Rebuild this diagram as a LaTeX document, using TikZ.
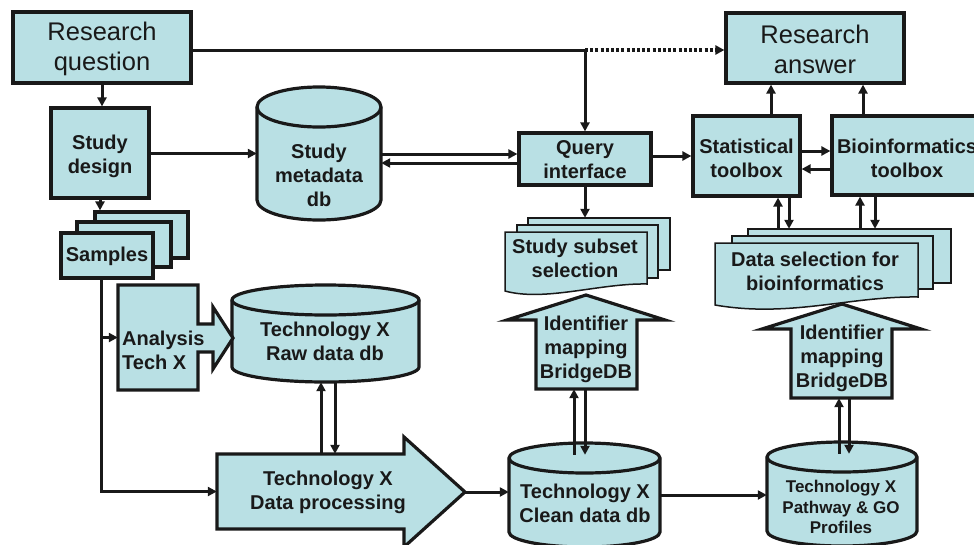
\documentclass[tikz,border=0pt]{standalone}
\usepackage{fontspec}
\setmainfont{Liberation Sans}
\usetikzlibrary{arrows.meta,fit}
\definecolor{boxfill}{RGB}{185,224,228}
\definecolor{ink}{RGB}{25,25,25}
\newcommand\dbcyl[7]{%
 \path[shapeline] (#2,#4+#6) -- (#2,#5-#6) arc[start angle=180,end angle=360,x radius=#7pt,y radius=#6pt] -- (#3,#4+#6) arc[start angle=0,end angle=180,x radius=#7pt,y radius=#6pt] -- cycle;
 \draw[draw=ink, line width=3.2pt] (#2,#4+#6) arc[start angle=180,end angle=360,x radius=#7pt,y radius=#6pt];
 \node[fit={(#2,#4) (#3,#5)}, inner sep=0pt] (#1) {};
}
\begin{document}
\begin{tikzpicture}[x=1pt,y=-1pt,
 shapeline/.style={draw=ink, line width=3.2pt, fill=boxfill, line join=miter},
 sheet/.style={draw=ink, line width=1.5pt, fill=boxfill},
 boxn/.style={shapeline, inner sep=0pt},
 lbl/.style={font=\fontsize{20}{24}\selectfont\bfseries, align=center, text=ink, inner sep=0pt},
 smalllbl/.style={font=\fontsize{17}{20.5}\selectfont\bfseries, align=center, text=ink, inner sep=0pt},
 biglbl/.style={font=\fontsize{25.5}{30}\selectfont, align=center, text=ink, inner sep=0pt},
 conn/.style={draw=ink, line width=3pt, -{Triangle[length=9pt,width=9pt]}},
 dots/.style={draw=ink, line width=3.2pt, dash pattern=on 3pt off 2.2pt, -{Triangle[length=9pt,width=9pt]}},
]
\useasboundingbox (0,0) rectangle (974,544);

% ---------- boxes ----------
\node[boxn, fit={(13,12) (191,83)}] (rq) {};
\node[biglbl] (rqt) at (102,49) {Research\\question};
\node[boxn, fit={(726,13) (904,83)}] (ra) {};
\node[biglbl] (rat) at (815,49) {Research\\answer};
\node[boxn, fit={(51,108) (149,198)}] (sd) {};
\node[lbl] (sdt) at (100,156) {Study\\design};
\node[boxn, fit={(519,133) (651,185)}] (qi) {};
\node[lbl] (qit) at (585,160) {Query\\interface};
\node[boxn, fit={(693,116) (800,196)}] (st) {};
\node[lbl] (stt) at (746.5,158) {Statistical\\toolbox};
\node[boxn, fit={(832,116) (982,195)}] (bt) {};
\node[lbl] (btt) at (907,158) {Bioinformatics\\toolbox};

% ---------- samples ----------
\node[boxn, fit={(95,212) (188,258)}] (smb) {};
\node[boxn, fit={(77,222) (171,267)}] (smm) {};
\node[boxn, fit={(61,233) (153,278)}] (sm) {};
\node[lbl] (smt) at (107,256) {Samples};

% ---------- cylinders ----------
\dbcyl{md}{257}{381}{87}{220}{20}{62}
\node[lbl] (mdt) at (319,175) {Study\\metadata\\db};
\dbcyl{raw}{232}{419}{285}{382}{15}{93.5}
\node[lbl] (rawt) at (325,341) {Technology X\\Raw data db};
\dbcyl{cl}{509}{660}{443}{547}{15}{75.5}
\node[lbl] (clt) at (585,503) {Technology X\\Clean data db};
\dbcyl{pw}{767}{917}{442}{546}{15}{75}
\node[smalllbl] (pwt) at (841,507) {Technology X\\Pathway \& GO\\Profiles};

% ---------- analysis arrow ----------
\draw[shapeline] (118,285) -- (198,285) -- (198,324) -- (213,324) -- (213,307) -- (233,338) -- (213,369) -- (213,352) -- (198,352) -- (198,390) -- (118,390) -- cycle;
\node[fit={(118,285) (233,390)}, inner sep=0pt] (an) {};
\node[lbl, align=left, anchor=west] (ant) at (122,350) {Analysis\\Tech X};

% ---------- data processing arrow ----------
\draw[shapeline] (217,454) -- (404,454) -- (404,437) -- (465,492) -- (404,547) -- (404,529) -- (217,529) -- cycle;
\node[fit={(217,454) (404,529)}, inner sep=0pt] (dp) {};
\coordinate (dptip) at (465,492);
\node[lbl] (dpt) at (328,492) {Technology X\\Data processing};

% ---------- document stacks ----------
\draw[sheet] (528,218) rectangle (670,270);
\draw[sheet] (517,225) rectangle (658,278);
\draw[sheet] (505,232) -- (647,232) -- (647,284) .. controls (600,283) and (545,302) .. (505,291) -- cycle;
\node[fit={(505,218) (670,291)}, inner sep=0pt] (ss) {};
\node[lbl] (sst) at (575,258) {Study subset\\selection};

\draw[sheet] (748,229) rectangle (951,283);
\draw[sheet] (732,236) rectangle (933,289);
\draw[sheet] (715,243) -- (918,243) -- (918,297) .. controls (850,296) and (790,318) .. (715,305) -- cycle;
\node[fit={(715,229) (951,305)}, inner sep=0pt] (ds) {};
\node[lbl] (dst) at (815,271) {Data selection for\\bioinformatics};

% ---------- identifier mapping arrows ----------
\draw[shapeline] (536,389) -- (536,320) -- (507,320) -- (586,295) -- (665,320) -- (637,320) -- (637,389) -- cycle;
\node[fit={(507,295) (665,389)}, inner sep=0pt] (im1) {};
\node[lbl] (im1t) at (586,349) {Identifier\\mapping\\BridgeDB};
\draw[shapeline] (791,398) -- (791,329) -- (762,329) -- (842,304) -- (921,329) -- (892,329) -- (892,398) -- cycle;
\node[fit={(762,304) (921,398)}, inner sep=0pt] (im2) {};
\node[lbl] (im2t) at (842,358) {Identifier\\mapping\\BridgeDB};

% ---------- connectors ----------
\draw[conn] (rq.south) -- (rq.south |- sd.north);
\draw[conn] (sd.south) -- (sd.south |- smb.north);
\draw[conn] (sd.east |- md.west) -- (md.west);
\draw[conn] ([yshift=5pt]qi.west -| md.east) -- ([yshift=5pt]qi.west);
\draw[conn] ([yshift=-4pt]qi.west) -- ([yshift=-4pt]qi.west -| md.east);
\coordinate (rqo) at ([yshift=-2.5pt]rq.east);
\coordinate (jn) at (qi.north |- rqo);
\draw[conn] (rqo) -| (qi.north);
\draw[dots] (jn) -- (jn -| ra.west);
\draw[conn] (qi.east |- st.west) -- (st.west);
\draw[conn] ([yshift=5pt]st.east) -- ([yshift=5pt]st.east -| bt.west);
\draw[conn] ([yshift=-13pt]st.east -| bt.west) -- ([yshift=-13pt]st.east);
\draw[conn] ([xshift=24.5pt]st.north) -- ([xshift=24.5pt]st.north |- ra.south);
\draw[conn] ([xshift=-44pt]bt.north) -- ([xshift=-44pt]bt.north |- ra.south);
\draw[conn] (qi.south) -- (qi.south |- ss.north);
\draw[conn] ([xshift=31.5pt]st.south |- ds.north) -- ([xshift=31.5pt]st.south);
\draw[conn] ([xshift=42.5pt]st.south) -- ([xshift=42.5pt]st.south |- ds.north);
\draw[conn] ([xshift=-47pt]bt.south |- ds.north) -- ([xshift=-47pt]bt.south);
\draw[conn] ([xshift=-32pt]bt.south) -- ([xshift=-32pt]bt.south |- ds.north);
% samples line
\coordinate (sl) at ([xshift=-6pt]sm.south);
\draw[conn] (sl) |- (dp.west);
\draw[conn] (sl |- an.west) -- (an.west);
% raw <-> processing
\draw[conn] ([xshift=-4.5pt]raw.south |- dp.north) -- ([xshift=-4.5pt]raw.south);
\draw[conn] ([xshift=9.5pt]raw.south) -- ([xshift=9.5pt]raw.south |- dp.north);
% processing -> clean -> pathway
\draw[conn] (dptip) -- (dptip -| cl.west);
\draw[conn] (cl.east) -- (cl.east -| pw.west);
% id mapping <-> dbs
\coordinate (cltop) at ([yshift=-12pt]cl.north);
\coordinate (pwtop) at ([yshift=-12pt]pw.north);
\draw[conn] ([xshift=-12pt]im1.south |- cltop) -- ([xshift=-12pt]im1.south);
\draw[conn] ([xshift=-1pt]im1.south) -- ([xshift=-1pt]im1.south |- cltop);
\draw[conn] ([xshift=-2.5pt]im2.south |- pwtop) -- ([xshift=-2.5pt]im2.south);
\draw[conn] ([xshift=7.5pt]im2.south) -- ([xshift=7.5pt]im2.south |- pwtop);
\end{tikzpicture}
\end{document}
